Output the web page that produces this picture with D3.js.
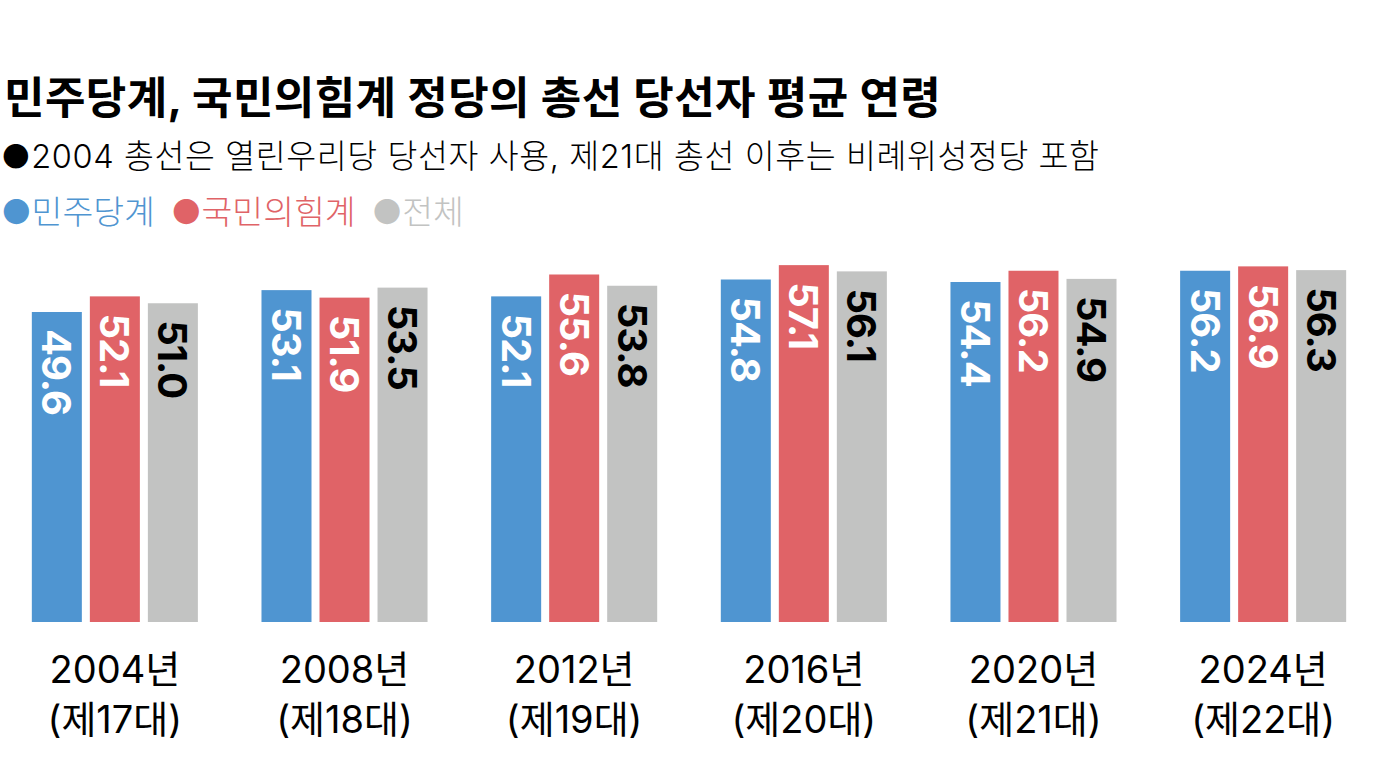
<!DOCTYPE html>
<html><head><meta charset="utf-8">
<script src="https://cdn.jsdelivr.net/npm/d3@7"></script>
<style>
body{margin:0;background:#fff;}
svg text{font-family:Inter,"Noto Sans CJK KR",sans-serif;}
</style></head><body>
<svg id="c" width="1379" height="772"></svg>
<script>
const years = ["2004년","2008년","2012년","2016년","2020년","2024년"];
const terms = ["(제17대)","(제18대)","(제19대)","(제20대)","(제21대)","(제22대)"];
const seriesNames = ["민주당계","국민의힘계","전체"];
const democratic = [49.6,53.1,52.1,54.8,54.4,56.2];
const ppp = [52.1,51.9,55.6,57.1,56.2,56.9];
const total = [51.0,53.5,53.8,56.1,54.9,56.3];
const colors = ["#4f95d1","#e06367","#c2c3c2"];
const labelColors = ["#fff","#fff","#000"];
const titleText = "민주당계, 국민의힘계 정당의 총선 당선자 평균 연령";
const noteText = "●2004 총선은 열린우리당 당선자 사용, 제21대 총선 이후는 비례위성정당 포함";

const seriesVals = [democratic, ppp, total];
const rows = years.map((y,i)=>({year:y, term:terms[i], vals:seriesVals.map(s=>s[i])}));

const svg = d3.select("#c");
const baseY = 622;
const y = d3.scaleLinear().domain([0,60]).range([baseY, baseY-60*6.25]);
const x0 = d3.scaleBand().domain(years).range([0,1378]).paddingInner(0.277).paddingOuter(0.1386);
const x1 = d3.scaleBand().domain(seriesNames).range([0,x0.bandwidth()]).paddingInner(0.138).paddingOuter(0);

svg.append("text").attr("x",4).attr("y",114).attr("font-size",44).attr("font-weight",700)
  .attr("letter-spacing",0.4).attr("fill","#000").text(titleText);
svg.append("text").attr("x",1).attr("y",168).attr("font-size",32.5).attr("font-weight",300)
  .attr("letter-spacing",0.6).attr("fill","#000").text(noteText);

const leg = svg.append("text").attr("x",1).attr("y",224).attr("font-size",33.5).attr("font-weight",300);
seriesNames.forEach((n,i)=>{
  leg.append("tspan").attr("fill",colors[i]).attr("dx", i? 16:0).text("●"+n);
});

const g = svg.selectAll("g.grp").data(rows).enter().append("g")
  .attr("class","grp").attr("transform",d=>`translate(${x0(d.year)},0)`);

g.selectAll("rect").data(d=>d.vals.map((v,i)=>({v,i}))).enter().append("rect")
  .attr("x",d=>x1(seriesNames[d.i])).attr("width",x1.bandwidth())
  .attr("y",d=>y(d.v)).attr("height",d=>baseY-y(d.v)).attr("fill",d=>colors[d.i]);

g.selectAll("text.val").data(d=>d.vals.map((v,i)=>({v,i}))).enter().append("text")
  .attr("class","val")
  .attr("transform",d=>`translate(${x1(seriesNames[d.i])+x1.bandwidth()/2},${y(d.v)+17}) rotate(90)`)
  .attr("dy","0.36em")
  .attr("font-size",40).attr("font-weight",700).attr("letter-spacing",-1)
  .attr("fill",d=>labelColors[d.i]).text(d=>d.v.toFixed(1));

g.append("text").attr("x",x0.bandwidth()/2).attr("y",683).attr("text-anchor","middle")
  .attr("font-size",38).attr("font-weight",400).attr("fill","#000").text(d=>d.year);
g.append("text").attr("x",x0.bandwidth()/2).attr("y",733).attr("text-anchor","middle")
  .attr("font-size",38).attr("font-weight",400).attr("fill","#000").text(d=>d.term);
</script></body></html>
